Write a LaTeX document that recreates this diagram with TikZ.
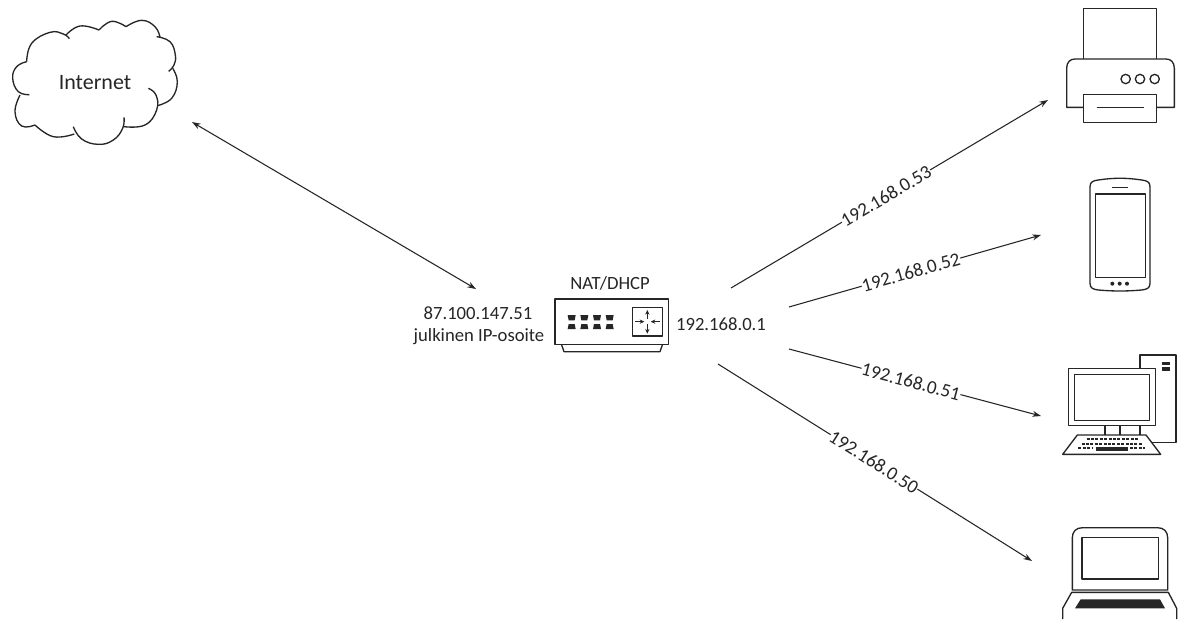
\documentclass[tikz,border=0pt]{standalone}
\usepackage{fontspec}
\setmainfont{Carlito}
\usetikzlibrary{arrows.meta}
\definecolor{ink}{HTML}{262626}
\tikzset{
  conn/.style={draw=ink,line width=0.8pt,-{Stealth[length=6.5pt,width=4.5pt]}},
  biconn/.style={draw=ink,line width=0.8pt,{Stealth[length=6.5pt,width=4.5pt]}-{Stealth[length=6.5pt,width=4.5pt]}},
  lbl/.style={font=\fontsize{14.3pt}{16pt}\selectfont,text=ink,inner sep=0.3pt,fill=white,sloped},
  txt/.style={font=\fontsize{14pt}{16pt}\selectfont,text=ink,inner sep=0pt},
  icon/.style={draw=ink,line width=1pt,line join=round},
  lobe/.style={draw=ink,line width=1pt}
}
\newcommand{\lobepath}[1]{\draw[lobe] plot[smooth,tension=0.75] coordinates {#1};}
\begin{document}
\begin{tikzpicture}[x=0.75pt,y=-0.75pt]
\useasboundingbox (0,0) rectangle (1186,619);
\fill[white] (0,0) rectangle (1186,619);
% cloud
\begin{scope}[scale=1/3]
\lobepath{(88,284) (55,275) (38,235) (50,200) (80,185)}
\lobepath{(80,185) (95,130) (150,97) (190,102) (208,116)}
\lobepath{(197,106) (240,78) (297,90)}
\lobepath{(297,90) (335,64) (378,80)}
\lobepath{(378,80) (425,61) (465,80) (480,112)}
\lobepath{(470,110) (510,125) (526,165) (522,195) (506,214)}
\lobepath{(518,205) (532,245) (515,295) (472,317)}
\lobepath{(445,265) (468,285) (470,330) (435,375) (372,380)}
\lobepath{(372,352) (368,385) (340,420) (295,433) (245,417) (220,380)}
\lobepath{(223,402) (160,410) (105,375)}
\lobepath{(105,375) (65,378) (45,335) (60,285)}
\end{scope}
\node[txt,font=\fontsize{16.5pt}{18pt}\selectfont] (internet) at (95,83) {Internet};
% router
\begin{scope}[shift={(540,265)},scale=1/3]
\draw[icon] (45,102) rectangle (385,238);
\draw[icon] (65,240) -- (72,260) -- (360,260) -- (367,240);
\draw[icon] (278,128) rectangle (367,213);
\foreach \p in {95,133,171,209}{
  \fill[ink] (\p-12,150) -- (\p+12,150) -- (\p+9,166) -- (\p-9,166) -- cycle;
  \fill[ink] (\p-9,177) -- (\p+9,177) -- (\p+12,192) -- (\p-12,192) -- cycle;
}
\draw[ink,line width=0.9pt,-{Stealth[length=3.5pt,width=3.2pt]}] (285,170) -- (313,170);
\draw[ink,line width=0.9pt,-{Stealth[length=3.5pt,width=3.2pt]}] (360,170) -- (332,170);
\draw[ink,line width=0.9pt,-{Stealth[length=3.5pt,width=3.2pt]}] (322,162) -- (322,135);
\draw[ink,line width=0.9pt,-{Stealth[length=3.5pt,width=3.2pt]}] (322,178) -- (322,206);
\end{scope}
\node[txt] (nat) at (610,283) {NAT/DHCP};
\node[txt] (pubip) at (478,313) {87.100.147.51};
\node[txt] (pubname) at (479,337) {julkinen IP-osoite};
\node[txt] (lanip) at (721,324) {192.168.0.1};
% printer
\begin{scope}[shift={(1040,0)},scale=1/3]
\draw[icon] (130,177) -- (130,25) -- (350,25) -- (350,177);
\draw[icon] (130,322) -- (80,322) -- (80,205) .. controls (80,187) and (90,177) .. (105,177) -- (378,177) .. controls (393,177) and (403,187) .. (403,205) -- (403,322) -- (350,322);
\draw[icon] (130,283) rectangle (350,367);
\draw[icon] (170,322) -- (312,322);
\foreach \c in {257,300,344}{\draw[icon] (\c,237) circle (14);}
\end{scope}
% phone
\begin{scope}[shift={(1060,170)},scale=1/3]
\draw[icon] (90,50) .. controls (90,35) and (100,32) .. (115,30) .. controls (160,23) and (200,23) .. (245,30) .. controls (260,32) and (270,35) .. (270,50) -- (270,340) .. controls (270,355) and (260,358) .. (245,360) .. controls (200,364) and (160,364) .. (115,360) .. controls (100,358) and (90,355) .. (90,340) -- cycle;
\draw[icon] (106,72) rectangle (256,323);
\draw[icon] (157,52) -- (204,52);
\foreach \c in {157,179,201}{\fill[ink] (\c,341) circle (6);}
\end{scope}
% desktop
\begin{scope}[shift={(1040,345)},scale=1/3]
\draw[icon] (300,68) -- (300,30) -- (408,30) -- (408,292) -- (335,292);
\fill[ink] (365,52) rectangle (390,60);
\fill[ink] (365,67) rectangle (390,77);
\draw[icon] (86,70) rectangle (347,242);
\draw[icon] (104,88) rectangle (329,226);
\foreach \c in {195,240,300}{\draw[icon] (\c,242) -- (\c,269);}
\draw[icon] (112,270) -- (318,270) -- (362,328) -- (68,328) -- cycle;
\draw[ink,line width=1.7pt,dash pattern=on 2.2pt off 1.1pt] (140,283) -- (298,283);
\draw[ink,line width=1.7pt,dash pattern=on 2.2pt off 1.1pt] (125,296) -- (306,296);
\fill[ink] (168,306) rectangle (263,317);
\draw[ink,line width=1.5pt,dash pattern=on 2.2pt off 1.1pt] (115,309) -- (160,309);
\draw[ink,line width=1.5pt,dash pattern=on 2.2pt off 1.1pt] (270,309) -- (315,309);
\end{scope}
% laptop
\begin{scope}[shift={(1040,515)},scale=1/3]
\draw[icon] (97,225) -- (97,68) .. controls (97,50) and (108,38) .. (128,38) -- (352,38) .. controls (372,38) and (383,50) .. (383,68) -- (383,225) -- cycle;
\draw[icon] (126,67) rectangle (355,192);
\draw[icon] (68,312) -- (68,280) -- (95,232) -- (385,232) -- (410,280) -- (410,312);
\fill[ink] (122,253) -- (360,253) -- (375,280) -- (105,280) -- cycle;
\end{scope}
% connector ends
\coordinate (cloudend) at (192,122);
\coordinate (wan) at (476,289);
\coordinate (r1) at (731,288);
\coordinate (r2) at (789,307);
\coordinate (r3) at (789,349);
\coordinate (r4) at (718,364);
\coordinate (printerend) at (1048,100);
\coordinate (phoneend) at (1041,235);
\coordinate (pcend) at (1041,416);
\coordinate (laptopend) at (1032,561);
\draw[biconn] (cloudend) -- (wan);
\draw[conn] (r1) -- node[lbl,pos=.489] (l53) {192.168.0.53} (printerend);
\draw[conn] (r2) -- node[lbl,pos=.484] (l52) {192.168.0.52} (phoneend);
\draw[conn] (r3) -- node[lbl,pos=.484] (l51) {192.168.0.51} (pcend);
\draw[conn] (r4) -- node[lbl,pos=.497] (l50) {192.168.0.50} (laptopend);
\end{tikzpicture}
\end{document}
